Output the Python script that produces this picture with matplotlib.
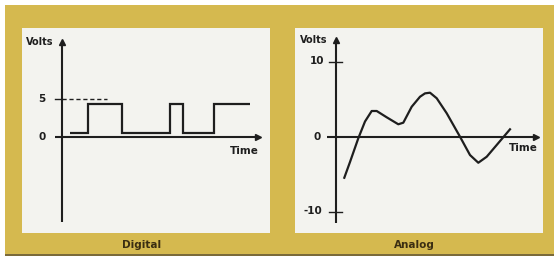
import matplotlib
matplotlib.use("Agg")
import matplotlib.pyplot as plt
from matplotlib.patches import Rectangle

# digital signal: switching times and levels between them (volts)
digital_edges = [0.8, 2.6, 6.0, 10.8, 12.1, 15.2, 18.8]
digital_levels = [0.43, 4.3, 0.43, 4.3, 0.43, 4.3]
digital_ticks = [5, 0]

# analog signal
analog_t = [0.83, 1.4, 2.23, 2.9, 3.57, 4.07, 5.07, 6.23, 6.73, 7.57, 8.4, 8.9, 9.4,
            10.07, 11.07, 12.4, 13.4, 14.23, 15.07, 16.07, 17.4]
analog_v = [-5.5, -3.4, -0.24, 2.0, 3.4, 3.4, 2.56, 1.63, 1.84, 3.97, 5.3, 5.75, 5.84,
            5.1, 3.1, -0.03, -2.47, -3.5, -2.7, -1.13, 0.96]
analog_ticks = [10, 0, -10]

W, H = 554, 258
GOLD = "#d5b94f"
PANEL = "#f3f3ef"
INK = "#1e1e1e"
CAP = "#3b2e12"

fig = plt.figure(figsize=(W / 100, H / 100), dpi=100)
fig.patch.set_facecolor("white")

bg = fig.add_axes([0, 0, 1, 1])
bg.set_xlim(0, W); bg.set_ylim(H, 0); bg.axis("off")
bg.add_patch(Rectangle((5, 5), W - 5, 249, color=GOLD, lw=0))
bg.add_patch(Rectangle((5, 254), W - 5, 2, color="#7a6a3a", lw=0))
for x0 in (22, 295):
    bg.add_patch(Rectangle((x0, 28), 248, 205, color=PANEL, lw=0))
bg.text(142, 245, "Digital", ha="center", va="center", fontsize=7.5, fontweight="bold", color=CAP)
bg.text(414, 245, "Analog", ha="center", va="center", fontsize=7.5, fontweight="bold", color=CAP)


def panel(x0, origin):
    ax = fig.add_axes([x0 / W, (H - 233) / H, 248 / W, 205 / H])
    ax.set_xlim((x0 - origin) / 10, (x0 + 248 - origin) / 10)
    ax.set_ylim((136.5 - 233) / 7.5, (136.5 - 28) / 7.5)
    ax.axis("off")
    return ax


def axes_lines(ax, xa, ya):
    ax.plot(xa, [0, 0], color=INK, lw=1.5, solid_capstyle="butt")
    ax.plot([0, 0], ya, color=INK, lw=1.5, solid_capstyle="butt")
    ax.plot(xa[1], 0, marker=">", ms=4.5, color=INK)
    ax.plot(0, ya[1], marker="^", ms=4.5, color=INK)
    ax.text(-2.2, ya[1], "Volts", ha="center", va="center", fontsize=7, fontweight="bold", color=INK)


# left: digital
axl = panel(22, 62)
axes_lines(axl, [-0.7, 19.6], [-11.4, 12.6])
axl.stairs(digital_levels, digital_edges, baseline=None, color=INK, lw=1.6)
axl.plot([0, 4.5], [5, 5], color=INK, lw=1, ls=(0, (3, 2)))
axl.plot([-0.7, 0], [5, 5], color=INK, lw=1)
for v in digital_ticks:
    axl.text(-2.0, v, str(v), ha="center", va="center", fontsize=7.5, fontweight="bold", color=INK)
axl.text(18.2, -1.9, "Time", ha="center", va="center", fontsize=7.5, fontweight="bold", color=INK)

# right: analog
axr = panel(295, 336)
axes_lines(axr, [-0.9, 20.0], [-11.5, 12.9])
axr.plot(analog_t, analog_v, color=INK, lw=1.6, solid_joinstyle="round")
for v in analog_ticks:
    if v != 0:
        axr.plot([-0.7, 0.6], [v, v], color=INK, lw=1)
    axr.text(-1.9 if v >= 0 else -2.3, v, str(v), ha="center", va="center",
             fontsize=7.5, fontweight="bold", color=INK)
axr.text(18.7, -1.5, "Time", ha="center", va="center", fontsize=7.5, fontweight="bold", color=INK)

fig.savefig("out.png", dpi=100)
